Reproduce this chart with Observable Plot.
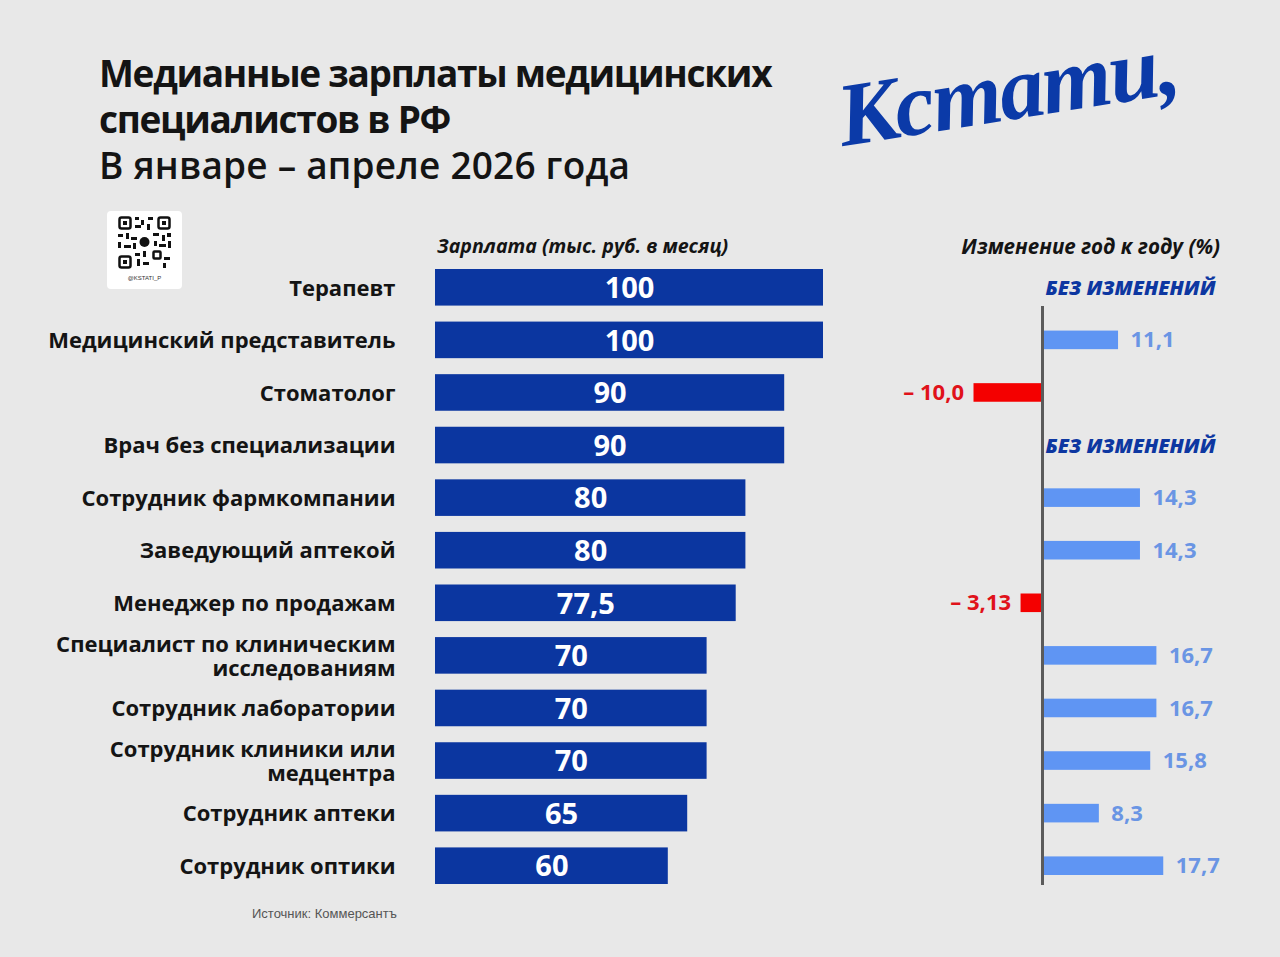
<!DOCTYPE html>
<html>
<head>
<meta charset="utf-8">
<script src="https://cdn.jsdelivr.net/npm/d3@7"></script>
<script src="https://cdn.jsdelivr.net/npm/@observablehq/plot@0.6"></script>
<style>
  html, body { margin: 0; padding: 0; background: #e8e8e8; }
  #page { position: relative; width: 1280px; height: 957px; background: #e8e8e8; overflow: hidden; font-family: "Open Sans", sans-serif; }
  #page svg.chart { position: absolute; left: 0; top: 0; }
  .title { position: absolute; left: 99px; top: 50px; font-size: 37px; line-height: 46px; font-weight: 700; color: #141414; letter-spacing: -1.3px; white-space: nowrap; }
  .title .sub { font-weight: 600; letter-spacing: 0.2px; }
  .logo { position: absolute; left: 846px; top: 66px; font-family: "Liberation Serif", serif; font-style: italic; font-weight: 700; font-size: 90px; line-height: 100px; color: #0b3aa8; transform: rotate(-9deg); transform-origin: left bottom; white-space: nowrap; letter-spacing: -2px; }
  .head { position: absolute; top: 232px; font-size: 19.6px; font-weight: 700; font-style: italic; color: #141414; white-space: nowrap; }
  .qr { position: absolute; left: 107px; top: 211px; width: 75px; height: 78px; background: #fff; border-radius: 4px; }
  .qr .tag { position: absolute; left: 0; width: 75px; top: 64px; text-align: center; font-family: "Liberation Sans", sans-serif; font-size: 6px; color: #333; }
  .source { position: absolute; left: 252px; top: 906px; font-family: "Liberation Sans", sans-serif; font-size: 13px; color: #555; }
</style>
</head>
<body>
<div id="page">
  <div class="title">Медианные зарплаты медицинских<br>специалистов в РФ<br><span class="sub">В январе – апреле 2026 года</span></div>
  <div class="logo">Кстати,</div>
  <div class="qr">
    <svg width="75" height="62" viewBox="0 0 75 62">
      <g fill="none" stroke="#111" stroke-width="2.5">
        <rect x="12.5" y="6.5" width="11" height="11" rx="2"/>
        <rect x="51.5" y="6.5" width="11" height="11" rx="2"/>
        <rect x="12.5" y="45.5" width="11" height="11" rx="2"/>
        <rect x="46.5" y="40.5" width="7" height="7" rx="1"/>
      </g>
      <g fill="#111">
        <rect x="16" y="10" width="4" height="4"/>
        <rect x="55" y="10" width="4" height="4"/>
        <rect x="16" y="49" width="4" height="4"/>
        <circle cx="37.5" cy="31" r="5"/>
        <rect x="28" y="6" width="4" height="3"/><rect x="34" y="9" width="3" height="5"/><rect x="41" y="6" width="5" height="3"/>
        <rect x="28" y="14" width="6" height="3"/><rect x="40" y="13" width="3" height="6"/>
        <rect x="11" y="23" width="5" height="3"/><rect x="19" y="22" width="3" height="6"/><rect x="24" y="26" width="6" height="3"/>
        <rect x="11" y="31" width="3" height="6"/><rect x="17" y="34" width="7" height="3"/><rect x="26" y="32" width="3" height="6"/>
        <rect x="46" y="22" width="6" height="3"/><rect x="55" y="24" width="3" height="6"/><rect x="60" y="22" width="4" height="4"/>
        <rect x="47" y="30" width="3" height="5"/><rect x="52" y="33" width="7" height="3"/><rect x="61" y="30" width="3" height="7"/>
        <rect x="28" y="42" width="5" height="3"/><rect x="36" y="40" width="3" height="6"/><rect x="30" y="48" width="3" height="7"/>
        <rect x="36" y="51" width="6" height="3"/><rect x="57" y="46" width="6" height="3"/><rect x="56" y="52" width="3" height="5"/>
      </g>
    </svg>
    <div class="tag">@KSTATI_P</div>
  </div>
  <div class="head" style="left: 437px;">Зарплата (тыс. руб. в месяц)</div>
  <div class="head" style="right: 60px; font-size: 20.6px;">Изменение год к году (%)</div>
  <div class="source">Источник: Коммерсантъ</div>
</div>
<script>
// Professions, top to bottom
const jobs = [
  "Терапевт",
  "Медицинский представитель",
  "Стоматолог",
  "Врач без специализации",
  "Сотрудник фармкомпании",
  "Заведующий аптекой",
  "Менеджер по продажам",
  "Специалист по клиническим\nисследованиям",
  "Сотрудник лаборатории",
  "Сотрудник клиники или\nмедцентра",
  "Сотрудник аптеки",
  "Сотрудник оптики"
];
// Median salary, thousand rubles per month
const salary = [100, 100, 90, 90, 80, 80, 77.5, 70, 70, 70, 65, 60];
// Year-over-year change, %; null = no change
const change = [null, 11.1, -10.0, null, 14.3, 14.3, -3.13, 16.7, 16.7, 15.8, 8.3, 17.7];
const noChangeLabel = "БЕЗ ИЗМЕНЕНИЙ";

const rows = jobs.map((job, i) => ({job, salary: salary[i], change: change[i]}));

// Russian decimal comma; at least one decimal place for changes
const ru = v => String(v).replace(".", ",");
const pct = v => {
  let s = String(Math.abs(v));
  if (!s.includes(".")) s += ".0";
  s = s.replace(".", ",");
  return v < 0 ? "– " + s : s;
};

const W = 1280, H = 957, TOP = 261, BOTTOM = 65;
const font = {background: "transparent", fontFamily: "Open Sans, sans-serif", overflow: "visible"};

const left = Plot.plot({
  width: W, height: H,
  marginLeft: 435, marginRight: W - 823, marginTop: TOP, marginBottom: BOTTOM,
  style: font,
  x: {domain: [0, 100], axis: null},
  y: {domain: jobs, axis: null, padding: 0, round: false},
  marks: [
    Plot.barX(rows, {x: "salary", y: "job", fill: "#0b36a0", insetTop: 8, insetBottom: 8}),
    Plot.text(rows, {x: d => d.salary / 2, y: "job", text: d => ru(d.salary), fill: "white",
      fontSize: 29, fontWeight: 700, dy: 1}),
    Plot.text(rows, {y: "job", text: "job", frameAnchor: "left", textAnchor: "end", dx: -40,
      fontSize: 22, fontWeight: 700, fill: "#141414", lineHeight: 1.1, letterSpacing: 0.5})
  ]
});

const pos = rows.filter(d => d.change != null && d.change > 0);
const neg = rows.filter(d => d.change != null && d.change < 0);
const none = rows.filter(d => d.change == null);

const k = 6.85; // px per percentage point
const right = Plot.plot({
  width: W, height: H,
  marginLeft: 1042 - 12 * k, marginRight: W - (1042 + 25 * k), marginTop: TOP, marginBottom: BOTTOM,
  style: font,
  x: {domain: [-12, 25], axis: null},
  y: {domain: jobs, axis: null, padding: 0, round: false},
  marks: [
    Plot.barX(pos, {x: "change", y: "job", fill: "#5f95f3", insetTop: 17, insetBottom: 17}),
    Plot.barX(neg, {x: "change", y: "job", fill: "#f40000", insetTop: 17, insetBottom: 17}),
    Plot.ruleX([0], {stroke: "#5b5b5b", strokeWidth: 3, insetTop: 45, insetBottom: 7}),
    Plot.text(pos, {x: "change", y: "job", text: d => pct(d.change), textAnchor: "start", dx: 12,
      fill: "#6a95e4", fontSize: 22, fontWeight: 700}),
    Plot.text(neg, {x: "change", y: "job", text: d => pct(d.change), textAnchor: "end", dx: -10,
      fill: "#e0121a", fontSize: 22, fontWeight: 700}),
    Plot.text(none, {x: 0, y: "job", text: () => noChangeLabel, textAnchor: "start", dx: 3, dy: 1,
      fill: "#0d37a1", fontSize: 20, fontWeight: 800, fontStyle: "italic"})
  ]
});

for (const svg of [left, right]) {
  svg.classList.add("chart");
  document.getElementById("page").appendChild(svg);
}
</script>
</body>
</html>
